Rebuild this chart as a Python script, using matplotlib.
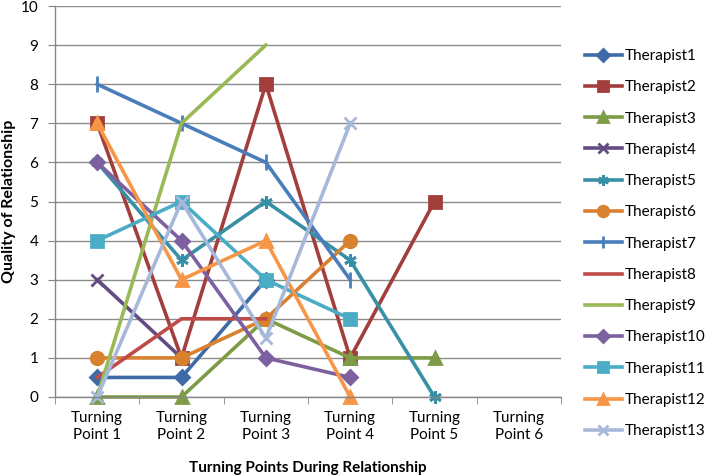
import numpy as np
import matplotlib
matplotlib.use("Agg")
import matplotlib.pyplot as plt

plt.rcParams['font.family'] = ['Lato', 'DejaVu Sans']

nan = np.nan
categories = ['Turning\nPoint 1', 'Turning\nPoint 2', 'Turning\nPoint 3',
              'Turning\nPoint 4', 'Turning\nPoint 5', 'Turning\nPoint 6']

therapist1 = [0.5, 0.5, 3, nan, nan, nan]
therapist2 = [7, 1, 8, 1, 5, nan]
therapist3 = [0, 0, 2, 1, 1, nan]
therapist4 = [3, 1, nan, nan, nan, nan]
therapist5 = [6, 3.5, 5, 3.5, 0, nan]
therapist6 = [1, 1, 2, 4, nan, nan]
therapist7 = [8, 7, 6, 3, nan, nan]
therapist8 = [0.5, 2, 2, nan, nan, nan]
therapist9 = [0, 7, 9, nan, nan, nan]
therapist10 = [6, 4, 1, 0.5, nan, nan]
therapist11 = [4, 5, 3, 2, nan, nan]
therapist12 = [7, 3, 4, 0, nan, nan]
therapist13 = [0, 5, 1.5, 7, nan, nan]

series = [therapist1, therapist2, therapist3, therapist4, therapist5, therapist6,
          therapist7, therapist8, therapist9, therapist10, therapist11,
          therapist12, therapist13]
names = ['Therapist%d' % (i + 1) for i in range(len(series))]

colors = ['#3E6BA6', '#A23F3C', '#7E9B45', '#634C83', '#3790A6', '#D8812F',
          '#4A7EBB', '#BE4B48', '#98B954', '#7D60A0', '#4BACC6', '#F79646',
          '#A7B9DA']
markers = ['D', 's', '^', 'x', (6, 2, 0), 'o', '|', None, None, 'D', 's', '^', 'x']
msizes = [7, 9, 9, 8, 9, 9, 11, 0, 0, 7, 9, 9, 9]

fig = plt.figure(figsize=(7.09, 4.75), dpi=100)
ax = fig.add_axes([55 / 709, 1 - 397 / 475, 506 / 709, 391 / 475])

x = np.arange(len(categories))
for vals, name, c, m, ms in zip(series, names, colors, markers, msizes):
    kw = dict(color=c, lw=2.6, label=name, solid_joinstyle='round')
    if m is not None:
        kw.update(marker=m, markersize=ms, markeredgecolor=c, markerfacecolor=c,
                  markeredgewidth=2.0)
    ax.plot(x, vals, clip_on=False, **kw)

ax.set_xlim(-0.5, len(categories) - 0.5)
ax.set_ylim(0, 10)
ax.set_yticks(range(0, 11))
ax.set_xticks(x)
ax.set_xticklabels(categories, fontsize=11, linespacing=1.3)
ax.set_xticks(np.arange(-0.5, len(categories)), minor=True)
ax.tick_params(axis='x', which='major', length=0, pad=10)
ax.tick_params(axis='x', which='minor', length=5, color='#868686', direction='out')
ax.tick_params(axis='y', length=5, color='#868686', pad=7, labelsize=11)

ax.grid(axis='y', color='#8C8C8C', lw=1.0)
ax.set_axisbelow(True)
for s in ['top', 'right']:
    ax.spines[s].set_visible(False)
for s in ['left', 'bottom']:
    ax.spines[s].set_color('#868686')
    ax.spines[s].set_linewidth(1.0)

fig.text(308 / 709, 1 - 468 / 475, 'Turning Points During Relationship',
         fontsize=11, fontweight='bold', ha='center', va='center')
fig.text(9 / 709, 1 - 201 / 475, 'Quality of Relationship', fontsize=11.5,
         fontweight='bold', rotation=90, ha='center', va='center')

leg = fig.legend(loc='upper left', bbox_to_anchor=(585 / 709, 1 - 49 / 475),
                 frameon=False, fontsize=11, labelspacing=1.13,
                 handlelength=2.4, handletextpad=0.2, borderpad=0,
                 borderaxespad=0, markerscale=0.85)

fig.savefig('out.png', dpi=100)
